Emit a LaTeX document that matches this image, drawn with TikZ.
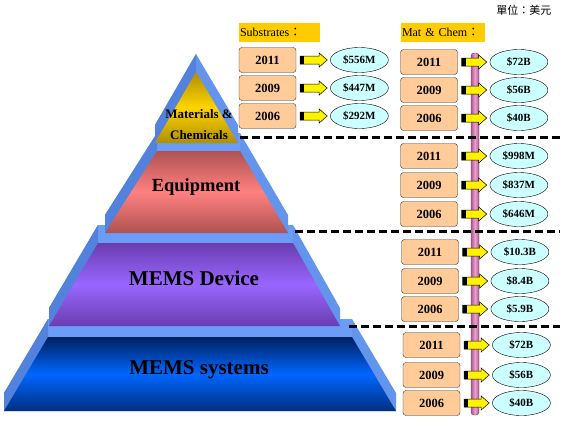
\documentclass[tikz,border=0pt]{standalone}
\usepackage{fontspec}
\setmainfont{Liberation Serif}
\newfontfamily\cjk{Noto Sans CJK TC}
\usetikzlibrary{positioning}
\usetikzlibrary{calc}
\usetikzlibrary{shapes.geometric}

\definecolor{peach}{HTML}{FFCC99}
\definecolor{icecyan}{HTML}{CCFFFF}
\definecolor{tagyellow}{HTML}{FFCC00}
\definecolor{rimblue}{HTML}{6495ED}
\definecolor{rimdark}{HTML}{5282DC}
\definecolor{rimtop}{HTML}{6A9CF8}
\definecolor{matdark}{HTML}{B08E00}
\definecolor{matmid}{HTML}{FFD400}
\definecolor{equdark}{HTML}{B05252}
\definecolor{equmid}{HTML}{FF8080}
\definecolor{devdark}{HTML}{6A3DB0}
\definecolor{devmid}{HTML}{9966FF}
\definecolor{systop}{HTML}{002060}
\definecolor{sysmid}{HTML}{0066FF}
\definecolor{sysbot}{HTML}{002F80}
\definecolor{poleside}{HTML}{B0588F}
\definecolor{polemid}{HTML}{E8A0CC}
\definecolor{poleedge}{HTML}{703060}

\begin{document}
\begin{tikzpicture}
        [
            x=1pt, y=1pt,
            year/.style={rectangle, rounded corners=3pt, draw=black!80, fill=peach, minimum width=57pt, minimum height=25pt, inner sep=0pt, font=\bfseries\fontsize{12.5}{12.5}\selectfont},
            value/.style={ellipse, draw, fill=icecyan, minimum width=58pt, minimum height=25pt, inner sep=0pt, font=\bfseries\fontsize{11}{11}\selectfont},
            tag/.style={fill=tagyellow, text width=79pt, inner xsep=1pt, minimum height=19pt, align=left, font=\fontsize{12}{12}\selectfont},
            level/.style={font=\bfseries\fontsize{21}{21}\selectfont},
            divider/.style={line width=3pt, dash pattern=on 7.5pt off 4.5pt},
            flow/.style={draw=black, line width=0.5pt, fill=yellow, line join=miter,
                path picture={\fill[black] ([xshift=4pt]path picture bounding box.north west) rectangle ([xshift=8pt]path picture bounding box.south west);},
                to path={let \p1=(\tikztostart), \p2=(\tikztotarget) in
                    (\x1+4pt,\y1+4pt) -- (\x2-11pt,\y1+4pt) -- (\x2-11pt,\y1+7pt) -- (\x2-3pt,\y1)
                    -- (\x2-11pt,\y1-7pt) -- (\x2-11pt,\y1-4pt) -- (\x1+4pt,\y1-4pt) -- cycle}}
        ]
        \useasboundingbox (0,0) rectangle (568,-421);
        %pyramid
        \fill[rimblue] (48,-319) -- (352,-319) -- (396,-393) -- (396,-411) -- (4,-411) -- (4,-393) -- cycle;
        \fill[rimtop] (48,-319) rectangle (352,-337);
        \fill[rimdark] (48,-319) -- (4,-393) -- (4,-411) -- (48,-337) -- cycle;
        \shade[top color=systop, bottom color=sysbot, middle color=sysmid] (48,-337) -- (352,-337) -- (396,-411) -- (4,-411) -- cycle;
        \fill[rimblue] (98,-225) -- (293,-225) -- (340,-308) -- (340,-326) -- (49,-326) -- (49,-308) -- cycle;
        \fill[rimtop] (98,-225) rectangle (293,-243);
        \fill[rimdark] (98,-225) -- (49,-308) -- (49,-326) -- (98,-243) -- cycle;
        \shade[top color=devdark, bottom color=devdark, middle color=devmid] (98,-243) -- (293,-243) -- (340,-326) -- (49,-326) -- cycle;
        \fill[rimblue] (157,-133) -- (240,-133) -- (288,-215) -- (288,-233) -- (105,-233) -- (105,-215) -- cycle;
        \fill[rimtop] (157,-133) rectangle (240,-151);
        \fill[rimdark] (157,-133) -- (105,-215) -- (105,-233) -- (157,-151) -- cycle;
        \shade[top color=equdark, bottom color=equdark, middle color=equmid] (157,-151) -- (240,-151) -- (288,-233) -- (105,-233) -- cycle;
        \fill[rimblue] (196,-54) -- (238,-125) -- (238,-143) -- (155,-143) -- (155,-125) -- cycle;
        \fill[rimdark] (196,-54) -- (155,-125) -- (155,-143) -- (196,-72) -- cycle;
        \shade[top color=matdark, bottom color=matdark, middle color=matmid] (196,-72) -- (238,-143) -- (155,-143) -- cycle;
        \node[level] (sys_label) at (199,-370) {MEMS systems};
        \node[level] (dev_label) at (194,-278) {MEMS Device};
        \node[level, font=\bfseries\fontsize{18.5}{18.5}\selectfont] (equ_label) at (196,-187) {Equipment};
        \node[align=center, font=\bfseries\fontsize{13}{21}\selectfont] (mat_label) at (199,-125) {Materials \&\\Chemicals};
        %pole and dividers
        \shade[left color=poleside, right color=poleside, middle color=polemid, draw=poleedge, rounded corners=3pt] (471,-53) rectangle (479,-415);
        \draw[divider] (240,-137) -- (563,-137);
        \draw[divider] (295,-231) -- (560,-231);
        \draw[divider] (349,-326) -- (560,-326);
        %titles
        \node[anchor=east, font=\cjk\fontsize{11}{11}\selectfont] (unit) at (555,-10) {單位：美元};
        \node[tag] (sub_tag) at (279.5,-32.5) {Substrates{\cjk ：}};
        \node[tag, text width=82pt] (mat_tag) at (443,-32.5) {Mat \& Chem{\cjk ：}};
        %nodes
        \node[year] at (267.5,-60)              (sub_2011)      {2011};
        \node[year] at (267.5,-88)              (sub_2009)      {2009};
        \node[year] at (267.5,-116)             (sub_2006)      {2006};
        \node[value, right=34pt of sub_2011]    (sub_2011_v)    {\$556M};
        \node[value, right=34pt of sub_2009]    (sub_2009_v)    {\$447M};
        \node[value, right=34pt of sub_2006]    (sub_2006_v)    {\$292M};
        \node[year] at (429,-62)                (mat_2011)      {2011};
        \node[year] at (429,-90)                (mat_2009)      {2009};
        \node[year] at (429,-118)               (mat_2006)      {2006};
        \node[value, right=32pt of mat_2011]    (mat_2011_v)    {\$72B};
        \node[value, right=32pt of mat_2009]    (mat_2009_v)    {\$56B};
        \node[value, right=32pt of mat_2006]    (mat_2006_v)    {\$40B};
        \node[year] at (429,-156)               (equ_2011)      {2011};
        \node[year] at (429,-185)               (equ_2009)      {2009};
        \node[year] at (429,-214)               (equ_2006)      {2006};
        \node[value, right=32pt of equ_2011]    (equ_2011_v)    {\$998M};
        \node[value, right=32pt of equ_2009]    (equ_2009_v)    {\$837M};
        \node[value, right=32pt of equ_2006]    (equ_2006_v)    {\$646M};
        \node[year] at (430,-252)               (dev_2011)      {2011};
        \node[year] at (430,-281)               (dev_2009)      {2009};
        \node[year] at (430,-309)               (dev_2006)      {2006};
        \node[value, right=32pt of dev_2011]    (dev_2011_v)    {\$10.3B};
        \node[value, right=32pt of dev_2009]    (dev_2009_v)    {\$8.4B};
        \node[value, right=32pt of dev_2006]    (dev_2006_v)    {\$5.9B};
        \node[year] at (431.5,-345)             (sys_2011)      {2011};
        \node[year] at (431.5,-375)             (sys_2009)      {2009};
        \node[year] at (431.5,-403)             (sys_2006)      {2006};
        \node[value, right=32pt of sys_2011]    (sys_2011_v)    {\$72B};
        \node[value, right=32pt of sys_2009]    (sys_2009_v)    {\$56B};
        \node[value, right=32pt of sys_2006]    (sys_2006_v)    {\$40B};
        %arrows
        \draw[flow] (sub_2011.east) to (sub_2011_v.west);
        \draw[flow] (sub_2009.east) to (sub_2009_v.west);
        \draw[flow] (sub_2006.east) to (sub_2006_v.west);
        \draw[flow] (mat_2011.east) to (mat_2011_v.west);
        \draw[flow] (mat_2009.east) to (mat_2009_v.west);
        \draw[flow] (mat_2006.east) to (mat_2006_v.west);
        \draw[flow] (equ_2011.east) to (equ_2011_v.west);
        \draw[flow] (equ_2009.east) to (equ_2009_v.west);
        \draw[flow] (equ_2006.east) to (equ_2006_v.west);
        \draw[flow] (dev_2011.east) to (dev_2011_v.west);
        \draw[flow] (dev_2009.east) to (dev_2009_v.west);
        \draw[flow] (dev_2006.east) to (dev_2006_v.west);
        \draw[flow] (sys_2011.east) to (sys_2011_v.west);
        \draw[flow] (sys_2009.east) to (sys_2009_v.west);
        \draw[flow] (sys_2006.east) to (sys_2006_v.west);
    \end{tikzpicture}
\end{document}
